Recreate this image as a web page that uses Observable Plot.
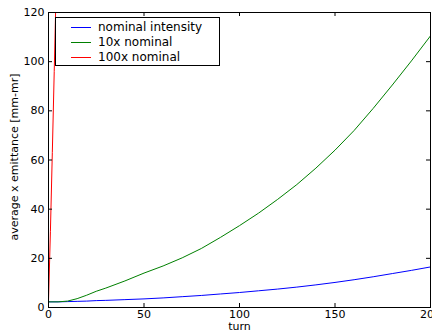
<!DOCTYPE html>
<html>
<head>
<meta charset="utf-8">
<script src="https://cdn.jsdelivr.net/npm/d3@7"></script>
<script src="https://cdn.jsdelivr.net/npm/@observablehq/plot@0.6"></script>
<style>
  html, body { margin: 0; padding: 0; background: white; }
  #wrap { position: relative; width: 432px; height: 330px; overflow: hidden; }
  #legend { position: absolute; left: 55px; top: 17px; width: 163px; height: 47px;
    border: 1px solid black; background: white; font-family: "DejaVu Sans", sans-serif; font-size: 12px; }
  .row { position: absolute; left: 0; height: 15px; width: 100%; }
  .row .sw { position: absolute; left: 15px; width: 20px; height: 1px; top: 7px; }
  .row .lb { position: absolute; left: 42px; top: 0; line-height: 15px; white-space: nowrap; }
</style>
</head>
<body>
<div id="wrap"><div id="legend"></div></div>
<script>
// ---- data ----
const turns = [0,5,10,15,20,25,30,40,50,60,70,80,90,100,110,120,130,140,150,160,170,180,190,200];
const nominal = [2.3,2.3,2.4,2.5,2.6,2.8,2.9,3.2,3.5,3.9,4.4,4.9,5.5,6.1,6.8,7.5,8.3,9.2,10.2,11.3,12.5,13.8,15.1,16.5];
const x10 = [2.3,2.3,2.6,3.6,5.0,6.6,7.9,10.8,14.0,16.9,20.2,24.0,28.5,33.3,38.4,44.0,50.0,56.7,64.0,72.0,81.0,90.5,100.3,110.5];
const turns100 = [0,1,2,3,4];
const x100 = [2.3,31,63,96,130];
const seriesNames = ["nominal intensity", "10x nominal", "100x nominal"];
const seriesColors = ["#0000ff", "#008000", "#ff0000"];
const xTicks = [0,50,100,150,200];
const yTicks = [0,20,40,60,80,100,120];

const rows = [];
turns.forEach((t,i) => rows.push({turn: t, v: nominal[i], s: seriesNames[0]}));
turns.forEach((t,i) => rows.push({turn: t, v: x10[i], s: seriesNames[1]}));
turns100.forEach((t,i) => rows.push({turn: t, v: x100[i], s: seriesNames[2]}));

const W = 432, H = 330, mL = 48, mR = 2, mT = 12, mB = 23;
const pw = W - mL - mR, ph = H - mT - mB, tl = 4;

const chart = Plot.plot({
  width: W, height: H,
  marginLeft: mL, marginRight: mR, marginTop: mT, marginBottom: mB,
  style: {fontFamily: "DejaVu Sans", fontSize: "11px", color: "black", background: "white"},
  x: {domain: [0, 200]},
  y: {domain: [0, 120]},
  color: {domain: seriesNames, range: seriesColors},
  marks: [
    Plot.line(rows, {x: "turn", y: "v", z: "s", stroke: "s", strokeWidth: 1, clip: true}),
    Plot.frame({stroke: "black", strokeWidth: 1}),
    Plot.ruleX(xTicks, {x: d => d, insetTop: ph - tl, stroke: "black"}),
    Plot.ruleX(xTicks, {x: d => d, insetBottom: ph - tl, stroke: "black"}),
    Plot.ruleY(yTicks, {y: d => d, insetRight: pw - tl, stroke: "black"}),
    Plot.ruleY(yTicks, {y: d => d, insetLeft: pw - tl, stroke: "black"}),
    Plot.axisX(xTicks, {tickSize: 0, tickPadding: 3, label: null, tickFormat: d => String(d)}),
    Plot.axisY(yTicks, {tickSize: 0, tickPadding: 4, label: null, tickFormat: d => String(d)}),
    Plot.text(["turn"], {frameAnchor: "bottom", dy: 19, lineAnchor: "middle", text: d => d, fontSize: 11}),
    Plot.text(["average x emittance [mm-mr]"], {frameAnchor: "left", dx: -34, dy: -3, rotate: -90,
      lineAnchor: "middle", textAnchor: "middle", text: d => d, fontSize: 11})
  ]
});
document.getElementById("wrap").prepend(chart);

const leg = document.getElementById("legend");
seriesNames.forEach((n, i) => {
  const r = document.createElement("div");
  r.className = "row";
  r.style.top = (2 + i * 15) + "px";
  r.innerHTML = `<div class="sw" style="background:${seriesColors[i]}"></div><div class="lb">${n}</div>`;
  leg.appendChild(r);
});
</script>
</body>
</html>
